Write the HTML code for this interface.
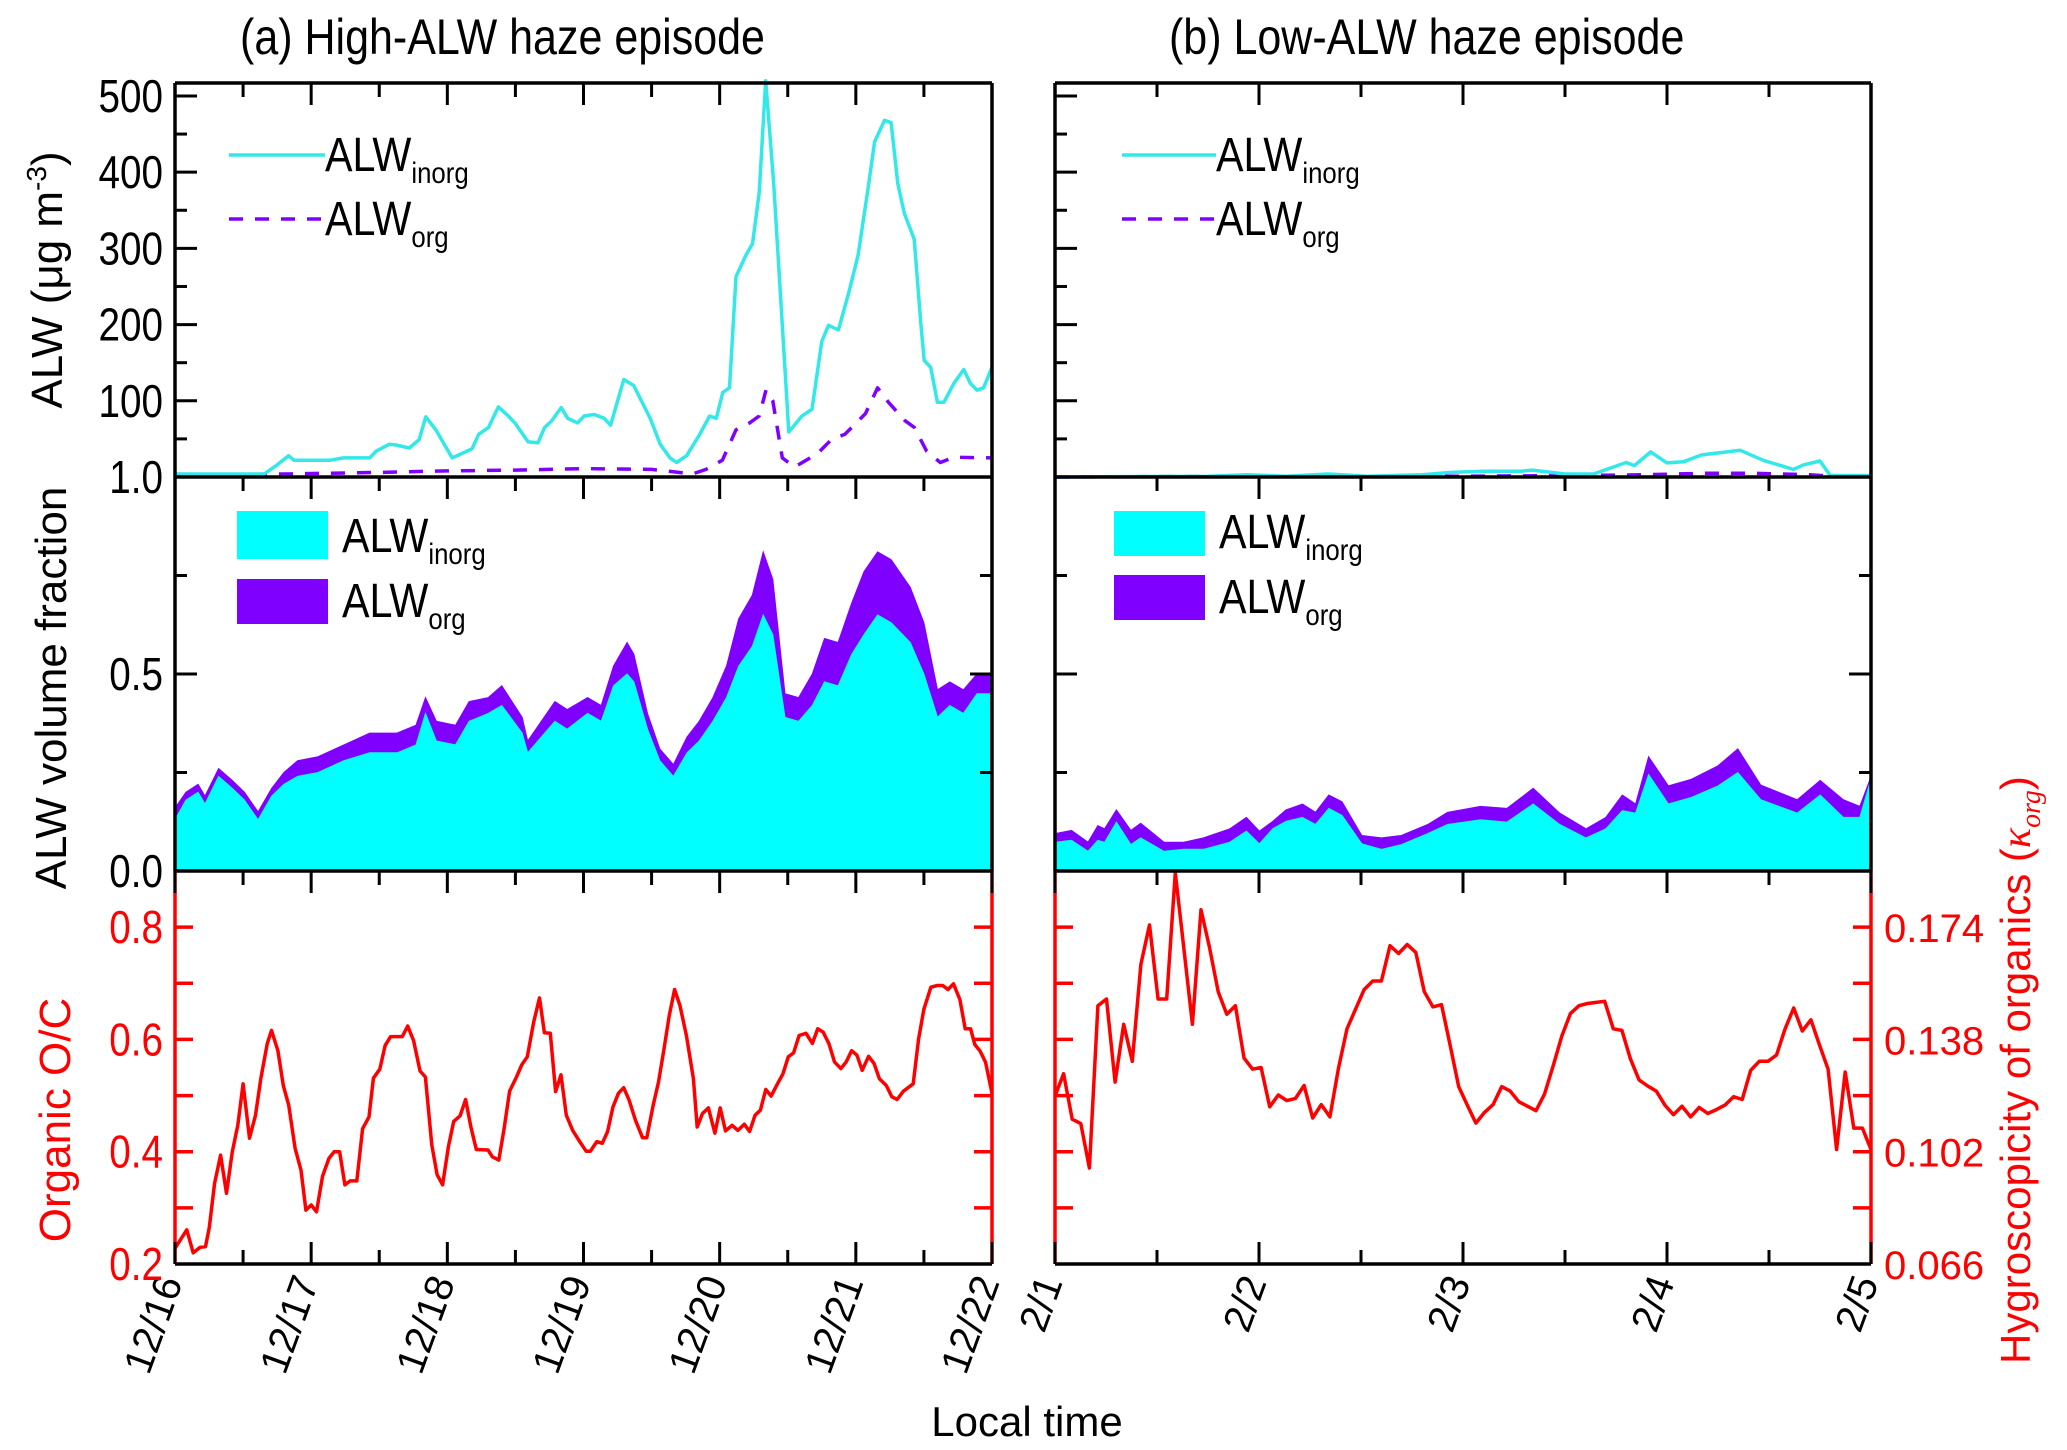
<!DOCTYPE html>
<html><head><meta charset="utf-8"><style>
html,body{margin:0;padding:0;background:#fff;}
svg{display:block;font-family:"Liberation Sans",sans-serif;}
.nr{transform-box:fill-box;transform-origin:right center;transform:scaleX(0.84);}
.nl{transform-box:fill-box;transform-origin:left center;transform:scaleX(0.86);}
</style></head><body>
<svg id="chart" width="2067" height="1450" viewBox="0 0 2067 1450" xmlns="http://www.w3.org/2000/svg">
<g id="marks"></g>
<g id="axes"></g>
<g id="labels"></g>
</svg>
<script>
// ---------- DATA ----------
const aTopT = [0,0.654,0.751,0.834,0.873,1.139,1.236,1.430,1.478,1.575,1.624,1.721,1.793,1.842,1.915,2.036,2.109,2.181,2.230,2.302,2.375,2.448,2.496,2.593,2.666,2.714,2.763,2.836,2.884,2.957,3.005,3.078,3.151,3.199,3.296,3.369,3.490,3.563,3.635,3.684,3.757,3.854,3.926,3.975,4.023,4.072,4.120,4.193,4.241,4.290,4.338,4.397,4.508,4.605,4.678,4.750,4.799,4.872,4.944,5.017,5.090,5.138,5.211,5.259,5.308,5.356,5.429,5.477,5.502,5.550,5.599,5.647,5.720,5.793,5.841,5.890,5.938,6.0];
const aTopInorg = [4,4,16,28,22,22,25,25,34,43,42,38,49,79,62,25,31,37,56,65,92,80,71,46,45,65,73,91,77,71,80,82,77,68,128,120,77,43,25,19,28,56,80,77,111,117,263,291,306,373,520,385,59,80,89,178,199,193,239,291,379,440,468,465,385,346,312,202,153,144,98,98,123,141,123,114,117,144];
const aTopOrgT = [0,0.8,1.5,2.0,2.5,3.0,3.5,3.7,3.80,3.90,4.02,4.12,4.22,4.29,4.34,4.39,4.46,4.55,4.72,4.82,4.92,5.07,5.16,5.24,5.36,5.43,5.52,5.62,5.72,6.0];
const aTopOrg = [3,4,6,8,9,11,10,6,4,10,22,62,71,80,114,100,25,13,31,49,56,83,117,98,74,65,34,19,26,25];
const bTopT = [0,0.75,0.94,1.13,1.34,1.53,1.80,1.94,2.10,2.28,2.34,2.50,2.64,2.80,2.84,2.92,3.00,3.08,3.17,3.36,3.47,3.62,3.67,3.75,3.80,4.0];
const bTopInorg = [0,1,3,1,4,1,3,6,7.5,7.5,9,4,4,19,15,33,18.5,20,29,35,22,10,16,21,2,2];
const bTopOrgT = [0,1.0,2.0,2.6,2.9,3.2,3.4,3.7,3.8,4.0];
const bTopOrg = [0,1,1,2,3,5,5,3,1,1];
const aMidT = [0,0.08,0.17,0.22,0.32,0.42,0.51,0.61,0.71,0.80,0.90,1.05,1.24,1.43,1.63,1.77,1.84,1.92,2.06,2.16,2.30,2.40,2.55,2.59,2.69,2.79,2.88,3.03,3.13,3.22,3.32,3.37,3.47,3.56,3.66,3.76,3.85,3.95,4.05,4.14,4.24,4.32,4.39,4.48,4.58,4.68,4.77,4.87,4.97,5.06,5.16,5.26,5.40,5.50,5.60,5.69,5.79,5.89,6.0];
const aMidInorg = [.13,.18,.20,.17,.24,.21,.18,.13,.19,.22,.24,.25,.28,.30,.30,.32,.40,.33,.32,.38,.40,.42,.35,.30,.34,.38,.36,.40,.38,.47,.50,.48,.36,.28,.24,.30,.33,.38,.44,.52,.57,.65,.60,.39,.38,.42,.48,.47,.55,.60,.65,.63,.58,.50,.39,.42,.40,.45,.45];
const aMidOrg = [.03,.02,.02,.02,.02,.02,.02,.02,.02,.03,.04,.04,.04,.05,.05,.05,.04,.05,.05,.05,.04,.05,.04,.03,.04,.05,.05,.04,.04,.05,.08,.07,.04,.03,.03,.04,.05,.06,.08,.12,.13,.16,.14,.06,.06,.08,.11,.11,.13,.16,.16,.16,.14,.13,.07,.06,.06,.05,.05];
const bMidT = [0,0.081,0.162,0.21,0.243,0.301,0.372,0.42,0.534,0.631,0.728,0.857,0.938,1.002,1.067,1.132,1.213,1.277,1.342,1.407,1.504,1.601,1.698,1.827,1.924,2.086,2.215,2.344,2.474,2.603,2.70,2.781,2.846,2.91,3.007,3.12,3.25,3.347,3.46,3.638,3.751,3.864,3.945,4.0];
const bMidInorg = [.073,.078,.050,.078,.073,.124,.067,.084,.050,.055,.055,.073,.101,.069,.107,.126,.136,.118,.159,.141,.069,.055,.067,.095,.118,.130,.124,.170,.118,.084,.107,.153,.147,.245,.170,.187,.216,.250,.181,.147,.193,.136,.136,.233];
const bMidOrg = [.022,.025,.023,.037,.034,.031,.036,.037,.023,.018,.029,.034,.035,.032,.019,.029,.034,.031,.034,.035,.021,.029,.023,.023,.031,.034,.035,.040,.029,.023,.029,.040,.023,.045,.046,.046,.051,.060,.037,.034,.037,.045,.028,.006];
const aOCT = [0,.087,.134,.185,.224,.252,.291,.335,.378,.421,.461,.500,.547,.591,.630,.677,.709,.756,.795,.835,.882,.925,.961,1.0,1.039,1.083,1.130,1.169,1.209,1.248,1.287,1.335,1.378,1.425,1.457,1.504,1.543,1.583,1.669,1.709,1.752,1.799,1.839,1.886,1.925,1.965,2.008,2.047,2.094,2.134,2.173,2.213,2.299,2.331,2.378,2.417,2.457,2.508,2.547,2.587,2.634,2.677,2.713,2.756,2.795,2.835,2.874,2.921,2.972,3.020,3.051,3.098,3.138,3.177,3.217,3.256,3.295,3.335,3.382,3.433,3.465,3.512,3.551,3.591,3.630,3.669,3.709,3.756,3.807,3.835,3.874,3.917,3.965,4.004,4.043,4.091,4.134,4.181,4.220,4.260,4.299,4.339,4.378,4.425,4.465,4.504,4.543,4.583,4.634,4.681,4.720,4.760,4.803,4.843,4.890,4.929,4.969,5.008,5.047,5.094,5.134,5.173,5.224,5.264,5.303,5.350,5.421,5.461,5.500,5.551,5.598,5.638,5.677,5.717,5.764,5.803,5.843,5.874,5.913,5.953,6.0];
const aOC = [.228,.261,.220,.230,.231,.265,.344,.394,.326,.400,.447,.521,.424,.465,.530,.592,.616,.580,.518,.483,.406,.367,.296,.305,.293,.356,.388,.400,.400,.341,.348,.348,.441,.462,.531,.547,.589,.605,.605,.624,.598,.544,.533,.412,.359,.341,.409,.454,.464,.493,.444,.404,.403,.391,.385,.441,.508,.533,.555,.569,.631,.674,.612,.611,.507,.537,.465,.438,.418,.401,.401,.418,.415,.436,.480,.504,.514,.492,.456,.425,.425,.483,.524,.583,.643,.689,.660,.607,.530,.444,.468,.478,.433,.478,.437,.447,.438,.449,.436,.465,.474,.511,.499,.521,.539,.569,.576,.607,.611,.593,.619,.613,.592,.560,.548,.560,.580,.572,.545,.570,.557,.530,.518,.498,.493,.508,.521,.601,.654,.693,.696,.696,.689,.699,.671,.619,.619,.591,.579,.559,.504];
const bOC = [.499,.539,.458,.45,.371,.66,.672,.524,.627,.561,.734,.804,.672,.672,.897,.763,.627,.831,.763,.685,.645,.66,.567,.547,.55,.48,.501,.491,.495,.518,.46,.484,.462,.549,.619,.654,.689,.704,.704,.767,.753,.769,.755,.685,.658,.662,.59,.516,.483,.451,.47,.484,.516,.508,.489,.481,.473,.503,.553,.606,.646,.66,.664,.666,.668,.619,.616,.565,.528,.517,.508,.483,.466,.481,.462,.479,.468,.475,.483,.498,.493,.545,.561,.561,.572,.619,.656,.615,.635,.59,.547,.404,.542,.442,.442,.404];
const aDayLabels = ["12/16","12/17","12/18","12/19","12/20","12/21","12/22"];
const bDayLabels = ["2/1","2/2","2/3","2/4","2/5"];
const topTicks = [100,200,300,400,500];
const midTicks = ["0.0","0.5","1.0"];
const ocTicks = ["0.2","0.4","0.6","0.8"];
const kappaTicks = ["0.066","0.102","0.138","0.174"];

// ---------- LAYOUT ----------
const NS="http://www.w3.org/2000/svg";
const Y0=83, Y1=477, Y2=871, Y3=1264;
const panels={a:{x0:175,x1:992,days:6},b:{x0:1055,x1:1871,days:4}};
const marks=document.getElementById('marks'), axes=document.getElementById('axes'), labels=document.getElementById('labels');
function el(tag,attrs,parent){const e=document.createElementNS(NS,tag);for(const k in attrs)e.setAttribute(k,attrs[k]);parent.appendChild(e);return e;}
function xs(p,t){return p.x0+(p.x1-p.x0)*t/p.days;}
const yTop=v=>Y1-(Y1-Y0)*v/517;
const yMid=v=>Y2-(Y2-Y1)*v;
const yOC=v=>Y3-(Y3-Y2)*(v-0.2)/0.7;

function line(p,ts,vs,ys,stroke,dash,name){
  let d='';for(let i=0;i<ts.length;i++){d+=(i?'L':'M')+xs(p,ts[i]).toFixed(1)+','+ys(vs[i]).toFixed(1);}
  const e=el('path',{d:d,fill:'none',stroke:stroke,'stroke-width':3.5,'stroke-linejoin':'round'},marks);
  if(dash)e.setAttribute('stroke-dasharray',dash);
  
  
}
function area(p,ts,lo,hi,fill,name){
  let d='';for(let i=0;i<ts.length;i++){d+=(i?'L':'M')+xs(p,ts[i]).toFixed(1)+','+yMid(hi[i]).toFixed(1);}
  for(let i=ts.length-1;i>=0;i--){d+='L'+xs(p,ts[i]).toFixed(1)+','+yMid(lo[i]).toFixed(1);}
  const e=el('path',{d:d+'Z',fill:fill,stroke:fill,'stroke-width':1},marks);
  
  
}
function stack(p,ts,inorg,org,tag){
  const zero=ts.map(()=>0), tot=inorg.map((v,i)=>v+org[i]);
  area(p,ts,inorg,tot,'#8000ff',tag+'-org-area');
  area(p,ts,zero,inorg,'#00ffff',tag+'-inorg-area');
}
stack(panels.a,aMidT,aMidInorg,aMidOrg,'a');
stack(panels.b,bMidT,bMidInorg,bMidOrg,'b');
line(panels.a,aTopOrgT,aTopOrg,yTop,'#8000ff','14,12','a-alw-org-line');
line(panels.a,aTopT,aTopInorg,yTop,'#33e8e8',null,'a-alw-inorg-line');
line(panels.b,bTopOrgT,bTopOrg,yTop,'#8000ff','14,12','b-alw-org-line');
line(panels.b,bTopT,bTopInorg,yTop,'#33e8e8',null,'b-alw-inorg-line');
line(panels.a,aOCT,aOC,yOC,'#ff0000',null,'a-oc-line');
line(panels.b,bOC.map((v,i)=>4*i/(bOC.length-1)),bOC,yOC,'#ff0000',null,'b-oc-line');

// ---------- AXES ----------
function seg(x1,y1,x2,y2,c,w,parent){return el('line',{x1:x1,y1:y1,x2:x2,y2:y2,stroke:c,'stroke-width':w},parent||axes);}
function txt(s,x,y,size,anchor,fill,extra){const e=el('text',Object.assign({x:x,y:y,'font-size':size,'text-anchor':anchor,fill:fill||'#000'},extra||{}),labels);e.textContent=s;return e;}
for(const key of ['a','b']){
  const p=panels[key];
  seg(p.x0,Y0,p.x1,Y0,'#000',3.5);seg(p.x0,Y1,p.x1,Y1,'#000',3.5);seg(p.x0,Y2,p.x1,Y2,'#000',3.5);seg(p.x0,Y3,p.x1,Y3,'#000',3.5);
  seg(p.x0,Y0,p.x0,Y2,'#000',3.5);seg(p.x1,Y0,p.x1,Y2,'#000',3.5);
  seg(p.x0,Y2,p.x0,Y3,'#ff0000',3.5);seg(p.x1,Y2,p.x1,Y3,'#ff0000',3.5);
  for(let h=0;h<=p.days*2;h++){
    const x=xs(p,h/2), L=h%2?14:22;
    for(const y of [Y0,Y1,Y2]) seg(x,y,x,y+L,'#000',3);
    seg(x,Y3,x,Y3-L,'#000',3);
  }
  for(let v=50;v<=500;v+=50){const y=yTop(v);seg(p.x0,y,p.x0+(v%100?12:22),y,'#000',3);}
  for(const v of [0.25,0.5,0.75]){const y=yMid(v),L=v===0.5?22:12;seg(p.x0,y,p.x0+L,y,'#000',3);seg(p.x1,y,p.x1-L,y,'#000',3);}
  for(let k=1;k<=6;k++){const y=yOC(0.2+k*0.1);seg(p.x0,y,p.x0+18,y,'#ff0000',3.5);seg(p.x1,y,p.x1-18,y,'#ff0000',3.5);}
  const labs=key==='a'?aDayLabels:bDayLabels;
  labs.forEach((s,i)=>{const x=xs(p,i)+8,y=Y3+18;const t=txt(s,x,y,40,'end','#000',{transform:'rotate(-70 '+x+' '+y+')'});
    });
}
topTicks.forEach(v=>{const t=txt(String(v),163,yTop(v)+16,46,'end');t.setAttribute('class','nr');});
midTicks.forEach(s=>{const t=txt(s,163,yMid(parseFloat(s))+16,46,'end');t.setAttribute('class','nr');});
ocTicks.forEach(s=>{const t=txt(s,163,yOC(parseFloat(s))+16,46,'end','#ff0000');t.setAttribute('class','nr');});
kappaTicks.forEach((s,i)=>{const t=txt(s,1884,yOC(0.2+0.2*i)+15,40,'start','#ff0000');});
</script>
<script>
const L=document.getElementById('labels');
L.insertAdjacentHTML('beforeend',`
<text class="nl" x="240" y="54" font-size="50">(a)  High-ALW haze episode</text>
<text class="nl" x="1169" y="54" font-size="50">(b)  Low-ALW haze episode</text>
<text transform="translate(62,280) rotate(-90)" text-anchor="middle" font-size="44">ALW (μg m<tspan dy="-16" font-size="28">-3</tspan><tspan dy="16">)</tspan></text>
<text transform="translate(66,688) rotate(-90)" text-anchor="middle" font-size="44">ALW volume fraction</text>
<text transform="translate(70,1120) rotate(-90)" text-anchor="middle" font-size="44" fill="#ff0000">Organic O/C</text>
<text transform="translate(2030,1070) rotate(-90)" text-anchor="middle" font-size="42" fill="#ff0000">Hygroscopicity of organics (<tspan font-family="Liberation Serif, serif" font-style="italic">κ<tspan dy="10" font-size="28">org</tspan></tspan><tspan dy="-10">)</tspan></text>
<text x="1027" y="1436" text-anchor="middle" font-size="42">Local time</text>
<g>
<line x1="229" y1="155" x2="325" y2="155" stroke="#33e8e8" stroke-width="3.5"/>
<text class="nl" x="325" y="171" font-size="48">ALW<tspan dy="12" font-size="30">inorg</tspan></text>
<line x1="229" y1="219" x2="325" y2="219" stroke="#8000ff" stroke-width="3.5" stroke-dasharray="14,12"/>
<text class="nl" x="325" y="235" font-size="48">ALW<tspan dy="12" font-size="30">org</tspan></text>
</g>
<g>
<line x1="1122" y1="155" x2="1216" y2="155" stroke="#33e8e8" stroke-width="3.5"/>
<text class="nl" x="1216" y="171" font-size="48">ALW<tspan dy="12" font-size="30">inorg</tspan></text>
<line x1="1122" y1="219" x2="1216" y2="219" stroke="#8000ff" stroke-width="3.5" stroke-dasharray="14,12"/>
<text class="nl" x="1216" y="235" font-size="48">ALW<tspan dy="12" font-size="30">org</tspan></text>
</g>
<g>
<rect x="237" y="511" width="91" height="48" fill="#00ffff"/>
<text class="nl" x="342" y="552" font-size="48">ALW<tspan dy="12" font-size="30">inorg</tspan></text>
<rect x="237" y="579" width="91" height="45" fill="#8000ff"/>
<text class="nl" x="342" y="617" font-size="48">ALW<tspan dy="12" font-size="30">org</tspan></text>
</g>
<g>
<rect x="1114" y="511" width="91" height="45" fill="#00ffff"/>
<text class="nl" x="1219" y="548" font-size="48">ALW<tspan dy="12" font-size="30">inorg</tspan></text>
<rect x="1114" y="575" width="91" height="45" fill="#8000ff"/>
<text class="nl" x="1219" y="613" font-size="48">ALW<tspan dy="12" font-size="30">org</tspan></text>
</g>`);
</script>
</body></html>
